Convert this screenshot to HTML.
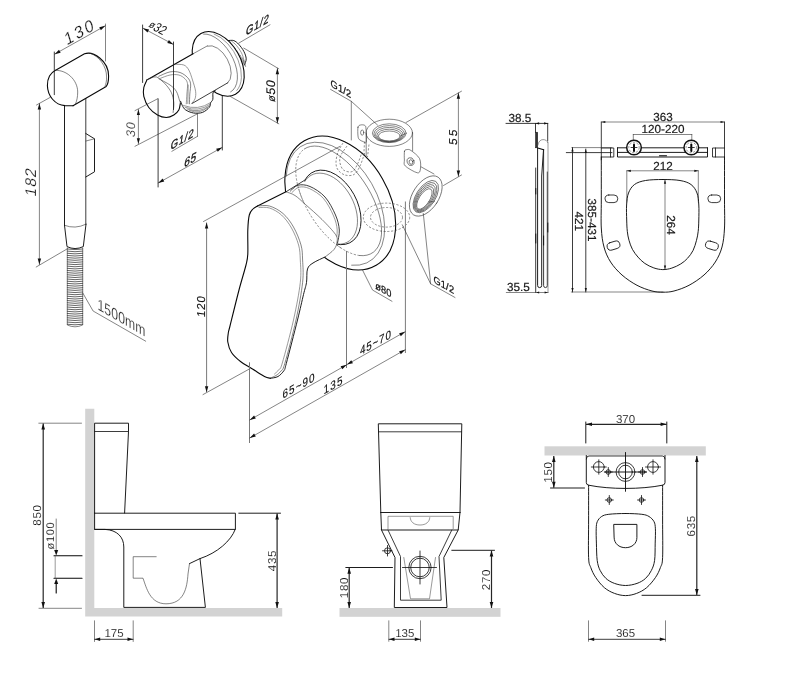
<!DOCTYPE html>
<html lang="en">
<head>
<meta charset="utf-8">
<title>Technical drawing</title>
<style>
html,body{margin:0;padding:0;background:#fff;}
body{width:800px;height:696px;overflow:hidden;font-family:"Liberation Sans",sans-serif;}
svg{display:block;}
.o{fill:none;stroke:#111;stroke-width:.95;stroke-linecap:round;stroke-linejoin:round;}
.b{fill:none;stroke:#080808;stroke-width:1.1;stroke-linecap:round;stroke-linejoin:round;}
.m{fill:none;stroke:#1a1a1a;stroke-width:.85;stroke-linecap:round;stroke-linejoin:round;}
.t{fill:none;stroke:#333;stroke-width:.6;stroke-linecap:round;stroke-linejoin:round;}
.k{fill:none;stroke:#262626;stroke-width:1.2;stroke-linecap:butt;}
.x{fill:none;stroke:#7a7a7a;stroke-width:1;stroke-linecap:butt;}
.g{fill:none;stroke:#555;stroke-width:.6;stroke-linecap:round;stroke-linejoin:round;}
.d{fill:none;stroke:#444;stroke-width:.6;stroke-dasharray:2.2 1.6;stroke-linejoin:round;}
.w{fill:#fff;}
.a{fill:#111;stroke:none;}
.wall{fill:#d3d3d3;stroke:none;}
text{font-family:"Liberation Sans",sans-serif;fill:#1a1a1a;text-anchor:middle;text-rendering:geometricPrecision;}
svg{filter:grayscale(1);will-change:transform;}
.n{fill:#0a0a0a;stroke:#fff;stroke-width:.14;paint-order:fill stroke;}
.c{text-anchor:start;fill:#111;stroke:#fff;stroke-width:.22;paint-order:fill stroke;}
</style>
</head>
<body>
<svg width="800" height="696" viewBox="0 0 800 696">
<rect x="0" y="0" width="800" height="696" fill="#fff"/>
<!-- 01_spray -->
<g id="spray">
<path class="t" d="M67.3 249Q75 250.2 82.7 249M67.3 251.15Q75 252.35 82.7 251.15M67.3 253.3Q75 254.5 82.7 253.3M67.3 255.45Q75 256.65 82.7 255.45M67.3 257.6Q75 258.8 82.7 257.6M67.3 259.75Q75 260.95 82.7 259.75M67.3 261.9Q75 263.1 82.7 261.9M67.3 264.05Q75 265.25 82.7 264.05M67.3 266.2Q75 267.4 82.7 266.2M67.3 268.35Q75 269.55 82.7 268.35M67.3 270.5Q75 271.7 82.7 270.5M67.3 272.65Q75 273.85 82.7 272.65M67.3 274.8Q75 276 82.7 274.8M67.3 276.95Q75 278.15 82.7 276.95M67.3 279.1Q75 280.3 82.7 279.1M67.3 281.25Q75 282.45 82.7 281.25M67.3 283.4Q75 284.6 82.7 283.4M67.3 285.55Q75 286.75 82.7 285.55M67.3 287.7Q75 288.9 82.7 287.7M67.3 289.85Q75 291.05 82.7 289.85M67.3 292Q75 293.2 82.7 292M67.3 294.15Q75 295.35 82.7 294.15M67.3 296.3Q75 297.5 82.7 296.3M67.3 298.45Q75 299.65 82.7 298.45M67.3 300.6Q75 301.8 82.7 300.6M67.3 302.75Q75 303.95 82.7 302.75M67.3 304.9Q75 306.1 82.7 304.9M67.3 307.05Q75 308.25 82.7 307.05M67.3 309.2Q75 310.4 82.7 309.2M67.3 311.35Q75 312.55 82.7 311.35M67.3 313.5Q75 314.7 82.7 313.5M67.3 315.65Q75 316.85 82.7 315.65M67.3 317.8Q75 319 82.7 317.8M67.3 319.95Q75 321.15 82.7 319.95M67.3 322.1Q75 323.3 82.7 322.1M67.3 324.25Q75 325.45 82.7 324.25" style="stroke-width:.75"/>
<path class="t" d="M67.3 248V325Q75 328.6 82.7 325V248"/>
<path class="o" d="M64.5 106L64.5 225.3"/>
<path class="m" d="M85.8 98.5L85.8 224.3"/>
<path class="t" d="M64.5 225.3Q75 229.5 86 224.2"/>
<path class="o" d="M64.5 225.3L67 246.6Q75 250.5 83.3 246.6L86 224.2"/>
<path class="o" d="M85.8 133.5L94.5 138.8V171.8L85.8 177"/>
<path class="t" d="M86 141L94.5 138.8"/>
<path class="b" d="M55.2 70.4C50.5 72.5 47.3 78.5 47.4 85.5C47.6 96 55 105 65 105.6L73 105.7"/>
<path class="b" d="M55.2 70.4L84.5 53.8C93 50.8 108.6 60.5 108.6 76C108.6 81 107.8 84.5 106.2 86.5L73 105.7"/>
<path class="t" d="M55.2 70.4C66 69.5 77.6 79.5 77.7 92C77.7 97 76.8 101 75.5 104"/>
<path class="t" d="M90 53.2C99 56 106.6 66 106.6 77C106.6 81 106 84 105 86.5"/>
<path class="m" d="M54.3 52L54.3 94.7"/>
<path class="t" d="M105.5 24L105.5 61"/>
<path class="t" d="M54.6 54.2L105.3 25.8"/><path class="a" d="M54.6 54.2L59 49.78L60.67 52.75Z"/><path class="a" d="M105.3 25.8L100.9 30.22L99.23 27.25Z"/>
<text class="c" font-size="16.5" letter-spacing="2.2" transform="translate(66.8 45.4) rotate(-29.3) skewX(-12) scale(1 1)">130</text>
<path class="t" d="M36.5 105L50 97.5"/>
<path class="t" d="M36.2 267L67 249"/>
<path class="t" d="M39.4 103.4L39.4 264.6"/><path class="a" d="M39.4 103.4L41.1 109.4L37.7 109.4Z"/><path class="a" d="M39.4 264.6L37.7 258.6L41.1 258.6Z"/>
<text class="c" font-size="15.5" letter-spacing="1" transform="translate(35.6 197.2) rotate(-90) skewX(-12) scale(1 1)">182</text>
<path class="t" d="M82.8 293L93.1 311L145.7 341.2"/>
<text class="c" font-size="16" letter-spacing="0.2" transform="translate(97.4 309.2) skewY(29.9) scale(0.76 1)" style="stroke-width:.25">1500mm</text>
</g>
<!-- 02_holder -->
<g id="holder">
<path class="t" d="M238.8 43.1L270 24.8"/>
<path class="t" d="M243.8 48.1L278.8 68.8"/>
<path class="t" d="M230 96.3L278.8 123.8"/>
<path class="t" d="M277.4 68.2L277.4 123.2"/><path class="a" d="M277.4 68.2L279.1 74.2L275.7 74.2Z"/><path class="a" d="M277.4 123.2L275.7 117.2L279.1 117.2Z"/>
<path style="fill:#fff;stroke:none" d="M228.1 40.6C229.05 40.6 232.02 39.97 233.8 40.6C235.58 41.23 237.13 42.62 238.8 44.4C240.47 46.18 242.57 48.9 243.8 51.3C245.03 53.7 246.1 56.52 246.2 58.8C246.3 61.08 244.7 63.97 244.4 65L230 62Z"/>
<path class="o" d="M228.1 40.6C229.05 40.6 232.02 39.97 233.8 40.6C235.58 41.23 237.13 42.62 238.8 44.4C240.47 46.18 242.57 48.9 243.8 51.3C245.03 53.7 246.1 56.52 246.2 58.8C246.3 61.08 244.7 63.97 244.4 65"/>
<path class="g" d="M230 41.6L231.6 48.1M231.75 43.9L233.35 50.4M233.5 46.2L235.1 52.7M235.25 48.5L236.85 55M237 50.8L238.6 57.3M238.75 53.1L240.35 59.6M240.5 55.4L242.1 61.9M242.25 57.7L243.85 64.2M244 60L245.6 66.5"/>
<path class="g" d="M231.5 41C232.33 41.75 234.87 43.58 236.5 45.5C238.13 47.42 240.12 50.17 241.3 52.5C242.48 54.83 243.45 57.42 243.6 59.5C243.75 61.58 242.43 64.08 242.2 65"/>
<ellipse class="b" style="fill:#fff" cx="218.2" cy="63.9" rx="22.4" ry="34.9" transform="rotate(-29.7 218.2 63.9)"/>
<path class="t" d="M203.55 34.04A18.4 32.4 -29.6 0 1 232.94 58.45A18.4 32.4 -29.6 0 1 230.67 91.9"/>
<path class="g" d="M214.05 33.99A20.4 33.6 -29.6 0 1 238.1 60.06A20.4 33.6 -29.6 0 1 236.81 90.43"/>
<path style="fill:#fff;stroke:none" d="M146.9 80L207.5 45.6C222 48 232 64 230.8 77.4C230.3 80 229.5 81.5 228.4 82.3L192 103.5L181 100L160 100Z"/>
<path class="t" d="M193.1 53.75L207.5 45.8"/>
<path class="t" d="M207.62 46.06A12.2 21.1 -28.1 0 1 227.27 59.18A12.2 21.1 -28.1 0 1 227.61 83.01"/>
<path class="b" d="M146.9 80L193.1 53.75"/>
<path style="fill:#fff;stroke:none" d="M180.6 101.3C180.88 102 181.48 104.08 182.3 105.5C183.12 106.92 183.63 108.55 185.5 109.8C187.37 111.05 190.67 112.57 193.5 113C196.33 113.43 199.87 113.35 202.5 112.4C205.13 111.45 207.95 108.9 209.3 107.3C210.65 105.7 210.02 104.12 210.6 102.8C211.18 101.48 212.43 99.97 212.8 99.4L192.4 103.3Z"/>
<path class="o" d="M180.6 101.3C180.88 102 181.48 104.08 182.3 105.5C183.12 106.92 183.63 108.55 185.5 109.8C187.37 111.05 190.67 112.57 193.5 113C196.33 113.43 199.87 113.35 202.5 112.4C205.13 111.45 207.95 108.9 209.3 107.3C210.65 105.7 210.02 104.12 210.6 102.8C211.18 101.48 212.4 101.07 212.8 99.4C213.2 97.73 212.55 94.22 213 92.8C213.45 91.38 215.08 91.22 215.5 90.9"/>
<path class="g" d="M183.5 105.5Q198.05 111 210.6 102.6"/>
<path class="g" d="M185 107.3Q198.5 112.35 210 104.4"/>
<path class="g" d="M187 109Q199.15 113.62 209.3 106.1"/>
<path class="g" d="M189.5 110.5Q199.5 114.75 207.5 107.6"/>
<path class="m" d="M192.4 103.3L227.8 82.8"/>
<path class="t" d="M158.8 76.3C160.67 75.57 166.47 72.53 170 71.9C173.53 71.27 177.08 71.57 180 72.5C182.92 73.43 185.73 75.62 187.5 77.5C189.27 79.38 190.22 81.05 190.6 83.8C190.98 86.55 190 90.67 189.8 94C189.6 97.33 189.47 102.17 189.4 103.8"/>
<path class="g" d="M160.5 78.3C162.08 77.75 166.95 75.55 170 75C173.05 74.45 176.3 74.37 178.8 75C181.3 75.63 183.55 77.33 185 78.8C186.45 80.27 187.18 81.27 187.5 83.8C187.82 86.33 187.1 90.67 186.9 94C186.7 97.33 186.4 102.17 186.3 103.8"/>
<path class="g" d="M175 64.4C176.47 64.5 181.5 64.07 183.8 65C186.1 65.93 187.35 67.5 188.8 70C190.25 72.5 191.37 76.45 192.5 80C193.63 83.55 195.18 88.17 195.6 91.3C196.02 94.43 195.72 96.72 195 98.8C194.28 100.88 191.92 102.97 191.3 103.8"/>
<path class="g" d="M188.2 85L187.8 103.5"/>
<path style="fill:#fff;stroke:none" d="M146.9 80C146.38 81.25 144.32 84.78 143.8 87.5C143.28 90.22 142.97 92.97 143.8 96.3C144.63 99.63 146.52 104.38 148.8 107.5C151.08 110.62 154.58 113.33 157.5 115C160.42 116.67 163.58 117.5 166.3 117.5C169.02 117.5 171.72 116.25 173.8 115C175.88 113.75 177.7 112 178.8 110C179.9 108 180.13 104.17 180.4 103L179.4 100L176.3 91.3L170 85L158.8 78.8Z"/>
<path class="b" d="M146.9 80C146.38 81.25 144.32 84.78 143.8 87.5C143.28 90.22 142.97 92.97 143.8 96.3C144.63 99.63 146.52 104.38 148.8 107.5C151.08 110.62 154.58 113.33 157.5 115C160.42 116.67 163.58 117.5 166.3 117.5C169.02 117.5 171.72 116.25 173.8 115C175.88 113.75 177.7 112 178.8 110C179.9 108 180.13 104.17 180.4 103"/>
<path class="t" d="M147.5 79.6C148.97 79.15 153.38 76.2 156.3 76.9C159.22 77.6 162.5 81.2 165 83.8C167.5 86.4 169.83 89.38 171.3 92.5C172.77 95.62 173.5 99.17 173.8 102.5C174.1 105.83 173.22 110.83 173.1 112.5"/>
<path class="t" d="M158.8 78.8C160.67 79.83 167.08 82.92 170 85C172.92 87.08 174.73 88.8 176.3 91.3C177.87 93.8 178.72 98.05 179.4 100C180.08 101.95 180.23 102.5 180.4 103"/>
<path class="m" d="M142.6 25L142.6 82.5"/>
<path class="m" d="M173.5 42L173.5 109.5"/>
<path class="t" d="M143 28.2L173.4 44.4"/><path class="a" d="M143 28.2L149.09 29.52L147.5 32.52Z"/><path class="a" d="M173.4 44.4L167.31 43.08L168.9 40.08Z"/>
<text class="c" font-size="13.5" letter-spacing="0" transform="translate(147.6 27.2) rotate(28.2) skewX(-8) scale(0.8 1)" style="stroke:none"><tspan font-size="10.5" dy="-0.8">ø</tspan><tspan dy="0.8">32</tspan></text>
<path class="t" d="M135 110.6L157.6 98.8"/>
<path class="t" d="M135 146.3L197.5 113.8"/>
<path class="t" d="M138.4 109.4L138.4 143.8"/><path class="a" d="M138.4 109.4L140 114.9L136.8 114.9Z"/><path class="a" d="M138.4 143.8L136.8 138.3L140 138.3Z"/>
<text class="c" font-size="12.5" letter-spacing="0.6" transform="translate(135.4 137.4) rotate(-90) skewX(-10) scale(1 1)">30</text>
<path class="m" d="M158.1 98.8L158.1 187"/>
<path class="m" d="M222.3 96L222.3 150"/>
<path class="t" d="M158.2 183L222.2 147.4"/><path class="a" d="M158.2 183L162.62 178.6L164.27 181.57Z"/><path class="a" d="M222.2 147.4L217.78 151.8L216.13 148.83Z"/>
<text class="c" font-size="10.5" letter-spacing="0.8" transform="translate(183.7 167.4) rotate(-29) skewX(-38) scale(1.1 1)" style="stroke:#222;stroke-width:.3;paint-order:stroke fill">65</text>
<path class="t" d="M197.5 113.8L197.5 136.3"/>
<path class="t" d="M171.9 151.3L197.5 136.3"/>
<text class="c" font-size="10" letter-spacing="0.8" transform="translate(170.2 150.2) rotate(-30.4) skewX(-38) scale(1.1 1)" style="stroke:#222;stroke-width:.3;paint-order:stroke fill">G1/2</text>
<text class="c" font-size="10" letter-spacing="0.8" transform="translate(245.4 35.8) rotate(-30.4) skewX(-38) scale(1.1 1)" style="stroke:#222;stroke-width:.3;paint-order:stroke fill">G1/2</text>
<text class="c" font-size="12.5" letter-spacing="0.6" transform="translate(275.4 102.2) rotate(-90) skewX(-10) scale(1 1)" style="stroke:#222;stroke-width:.12;paint-order:stroke fill"><tspan font-size="10.5">ø</tspan>50</text>
</g>
<!-- 03_mixer -->
<g id="mixer">
<path class="t" d="M366.2 133L366.2 156"/>
<path class="t" d="M412.6 133L412.6 150.8"/>
<ellipse class="t" cx="389.3" cy="132.8" rx="23.2" ry="13.6"/>
<ellipse class="t" cx="389.3" cy="133.2" rx="16.9" ry="9.4"/>
<ellipse class="t" cx="389.3" cy="133.9" rx="15.4" ry="8.3"/>
<ellipse class="t" cx="389.3" cy="134.6" rx="13.9" ry="7.2"/>
<ellipse class="t" cx="389.3" cy="135.3" rx="12.4" ry="6.1"/>
<ellipse class="t" cx="389.3" cy="136" rx="10.9" ry="5"/>
<path class="t" d="M358 127.2C358.42 125.37 359.37 125.3 360.5 125C361.63 124.7 363.88 124.73 364.8 125.4C365.72 126.07 365.77 126.23 366 129C366.23 131.77 366.7 139.92 366.2 142C365.7 144.08 364.13 141.9 363 141.5C361.87 141.1 360.23 140.52 359.4 139.6C358.57 138.68 358.23 138.07 358 136C357.77 133.93 357.58 129.03 358 127.2Z"/>
<ellipse class="t" cx="362.2" cy="132.6" rx="1.6" ry="2.6"/>
<path class="t" d="M404.5 151.2C404.93 149.47 405.92 149.72 407 149.6C408.08 149.48 408.92 149.02 411 150.5C413.08 151.98 417.93 155.42 419.5 158.5C421.07 161.58 420.77 166.62 420.4 169C420.03 171.38 419.82 173.3 417.3 172.8C414.78 172.3 407.45 168.13 405.3 166C403.15 163.87 404.53 162.47 404.4 160C404.27 157.53 404.07 152.93 404.5 151.2Z"/>
<ellipse class="t" cx="410.6" cy="161.6" rx="3.4" ry="4" transform="rotate(-20 410.6 161.6)"/>
<ellipse class="t" cx="411" cy="162" rx="1.8" ry="2.3" transform="rotate(-20 411 162)"/>
<path class="t" d="M421 166.8L434 174"/>
<ellipse class="t" cx="425.8" cy="196" rx="13" ry="22.5" transform="rotate(33 425.8 196)"/>
<ellipse class="t" cx="425.8" cy="196.6" rx="9.6" ry="18.2" transform="rotate(33 425.8 196.6)"/>
<ellipse class="t" cx="425.45" cy="197.2" rx="8.5" ry="16.6" transform="rotate(33 425.45 197.2)"/>
<ellipse class="t" cx="425.1" cy="197.8" rx="7.4" ry="15" transform="rotate(33 425.1 197.8)"/>
<ellipse class="t" cx="424.75" cy="198.4" rx="6.3" ry="13.4" transform="rotate(33 424.75 198.4)"/>
<ellipse class="t" cx="424.4" cy="199" rx="5.2" ry="11.8" transform="rotate(33 424.4 199)"/>
<ellipse class="b" style="fill:#fff" cx="340.25" cy="203" rx="48.7" ry="71.85" transform="rotate(-30 340.25 203)"/>
<ellipse class="d" cx="386.5" cy="217.3" rx="23.2" ry="14.2"/>
<ellipse class="d" cx="386.5" cy="217.3" rx="16" ry="9.8"/>
<path class="d" d="M364.5 141.5L363.8 156M369 144.5L367.5 157"/>
<path class="d" d="M343 143C342.17 144.5 339.17 148.75 338 152C336.83 155.25 336 159.5 336 162.5C336 165.5 336.5 167.92 338 170C339.5 172.08 342.33 174.25 345 175C347.67 175.75 351.5 176 354 174.5C356.5 173 358.17 169.75 360 166C361.83 162.25 364.17 154.33 365 152"/>
<path class="d" d="M347 146C346 147.5 342.2 152.33 341 155C339.8 157.67 339.38 159.5 339.8 162C340.22 164.5 341.38 168.42 343.5 170C345.62 171.58 350.08 172.67 352.5 171.5C354.92 170.33 356.42 166.25 358 163C359.58 159.75 361.33 153.83 362 152"/>
<path class="t" d="M286.18 176.1A41.5 67.1 -30.3 0 1 331.72 145.63A41.5 67.1 -30.3 0 1 383.66 216.33A41.5 67.1 -30.3 0 1 351.66 265.23"/>
<path class="t" d="M304.31 148.98A31.5 62.2 -33 0 1 371.08 193.88A31.5 62.2 -33 0 1 359.53 255.52"/>
<path class="d" d="M359.53 255.52A31.5 62.2 -33 0 1 306.32 207.72A31.5 62.2 -33 0 1 304.31 148.98"/>
<path class="o" d="M304.97 179.97A26 40 -28 0 1 340.93 178.35A26 40 -28 0 1 360.56 226.49A26 40 -28 0 1 330.24 241.93"/>
<path class="t" d="M304.69 181.56A24.6 38.2 -28 0 1 351.06 196.94A24.6 38.2 -28 0 1 338.18 244.22"/>
<path class="m" d="M286 191.8L305 180"/>
<path class="m" d="M290.5 191C291.75 190.03 294.75 185.95 298 185.2C301.25 184.45 305.5 184.53 310 186.5C314.5 188.47 320.75 192.25 325 197C329.25 201.75 333.12 209.5 335.5 215C337.88 220.5 338.97 225.33 339.3 230C339.63 234.67 337.8 240.83 337.5 243"/>
<path class="g" d="M292 192.5C293.17 191.62 296.08 187.85 299 187.2C301.92 186.55 305.42 186.72 309.5 188.6C313.58 190.48 319.48 193.93 323.5 198.5C327.52 203.07 331.32 210.75 333.6 216C335.88 221.25 336.87 225.67 337.2 230C337.53 234.33 335.87 240 335.6 242"/>
<path style="fill:#fff;stroke:none" d="M286 191.8C287.5 192.42 291.75 193.38 295 195.5C298.25 197.62 301 200.5 305.5 204.5C310 208.5 317 214.5 322 219.5C327 224.5 333 230.75 335.5 234.5C338 238.25 337.25 239.5 337 242C336.75 244.5 336 247 334 249.5C332 252 328.5 254.75 325 257C321.5 259.25 315.92 261 313 263C310.08 265 308.58 265.75 307.5 269C306.42 272.25 307.17 278.25 306.5 282.5C305.83 286.75 305 288.25 303.5 294.5C302 300.75 300.37 308.5 297.5 320C294.63 331.5 288.55 355.08 286.3 363.5C284.05 371.92 285.38 368.33 284 370.5C282.62 372.67 280.25 375.2 278 376.5C275.75 377.8 272.75 378.3 270.5 378.3C268.25 378.3 267.5 378.05 264.5 376.5C261.5 374.95 256.5 371.5 252.5 369C248.5 366.5 244 364.25 240.5 361.5C237 358.75 233.62 355.75 231.5 352.5C229.38 349.25 228.33 345.25 227.8 342C227.27 338.75 227.93 335.67 228.3 333C228.67 330.33 228.22 333.17 230 326C231.78 318.83 236.33 300.17 239 290C241.67 279.83 244.53 271 246 265C247.47 259 247.5 259.83 247.8 254C248.1 248.17 247.55 236.5 247.8 230C248.05 223.5 248.43 218.5 249.3 215C250.17 211.5 251.63 210.5 253 209C254.37 207.5 256.75 206.5 257.5 206Z"/>
<path class="t" d="M286 191.8C287.5 192.42 291.75 193.38 295 195.5C298.25 197.62 301 200.5 305.5 204.5C310 208.5 317 214.5 322 219.5C327 224.5 333 230.75 335.5 234.5C338 238.25 337.25 239.5 337 242C336.75 244.5 336 247 334 249.5C332 252 326.5 255.75 325 257"/>
<path class="o" d="M325 257C323 258 315.92 261 313 263C310.08 265 308.58 265.75 307.5 269C306.42 272.25 307.17 278.25 306.5 282.5C305.83 286.75 305 288.25 303.5 294.5C302 300.75 300.37 308.5 297.5 320C294.63 331.5 288.55 355.08 286.3 363.5C284.05 371.92 285.38 368.33 284 370.5C282.62 372.67 280.25 375.2 278 376.5C275.75 377.8 271.75 378 270.5 378.3"/>
<path class="b" d="M286 191.8L257.5 206"/>
<path class="b" d="M257.5 206C256.75 206.5 254.37 207.5 253 209C251.63 210.5 250.17 211.5 249.3 215C248.43 218.5 248.05 223.5 247.8 230C247.55 236.5 248.1 248.17 247.8 254C247.5 259.83 247.47 259 246 265C244.53 271 241.67 279.83 239 290C236.33 300.17 231.78 318.83 230 326C228.22 333.17 228.67 330.33 228.3 333C227.93 335.67 227.27 338.75 227.8 342C228.33 345.25 229.38 349.25 231.5 352.5C233.62 355.75 237 358.75 240.5 361.5C244 364.25 248.5 366.5 252.5 369C256.5 371.5 261.5 374.95 264.5 376.5C267.5 378.05 269.5 378 270.5 378.3"/>
<path class="t" d="M257.5 206C259.5 206 265.25 204.75 269.5 206C273.75 207.25 279 210 283 213.5C287 217 290.5 221.75 293.5 227C296.5 232.25 299.48 239.5 301 245C302.52 250.5 302.33 253.75 302.6 260C302.87 266.25 303.7 272.5 302.6 282.5C301.5 292.5 298.97 306.5 296 320C293.03 333.5 287.3 355 284.8 363.5C282.3 372 282.47 369 281 371C279.53 373 277.75 374.33 276 375.5C274.25 376.67 271.42 377.58 270.5 378"/>
<path class="g" d="M259 207.5C260.75 207.58 265.75 206.75 269.5 208C273.25 209.25 277.83 211.67 281.5 215C285.17 218.33 288.65 223 291.5 228C294.35 233 297.13 239.67 298.6 245C300.07 250.33 300.02 253.75 300.3 260C300.58 266.25 301.43 272.5 300.3 282.5C299.17 292.5 296.5 306.58 293.5 320C290.5 333.42 284.72 354.75 282.3 363C279.88 371.25 280.3 367.67 279 369.5C277.7 371.33 275.25 373.25 274.5 374"/>
<path class="d" d="M340.75 247.82A31.5 62.2 -33 0 1 298.66 188.81"/>
<path class="t" d="M330.6 89.4L351.3 101.3L377.5 125"/>
<path class="t" d="M351.3 101.3L351.3 140"/>
<text class="c" font-size="10.3" letter-spacing="0.2" transform="translate(330.6 86.2) skewY(30) scale(0.9 1)" style="stroke:#222;stroke-width:.25;paint-order:stroke fill">G1/2</text>
<path class="t" d="M406 122.5L461.5 91.2"/>
<path class="t" d="M443.5 185.5L461.5 175"/>
<path class="t" d="M458.4 92.8L458.4 176.4"/><path class="a" d="M458.4 92.8L460.1 98.8L456.7 98.8Z"/><path class="a" d="M458.4 176.4L456.7 170.4L460.1 170.4Z"/>
<text class="c" font-size="11.5" letter-spacing="2.4" transform="translate(456.8 145.2) rotate(-90) skewX(-8) scale(1 1)" style="stroke:#222;stroke-width:.15;paint-order:stroke fill">55</text>
<path class="t" d="M203.5 221.5L340 146.3"/>
<path class="t" d="M203 394.6L249 369.2"/>
<path class="x" d="M206.6 222.6L206.6 392.2"/><path class="a" d="M206.6 222.6L208.3 228.6L204.9 228.6Z"/><path class="a" d="M206.6 392.2L204.9 386.2L208.3 386.2Z"/>
<text class="c" font-size="11.5" letter-spacing="0.9" transform="translate(205.2 317.6) rotate(-90) skewX(-8) scale(1 1)" style="stroke:#222;stroke-width:.15;paint-order:stroke fill">120</text>
<path class="x" d="M249.5 362.3L249.5 443"/>
<path class="x" d="M346.5 251L346.5 368"/>
<path class="x" d="M405.4 201.5L405.4 353"/>
<path class="t" d="M346.9 364.6L405.2 331.7"/><path class="a" d="M346.9 364.6L351.29 360.17L352.96 363.13Z"/><path class="a" d="M405.2 331.7L400.81 336.13L399.14 333.17Z"/>
<text class="c" font-size="10.5" letter-spacing="0.9" transform="translate(360 355.2) rotate(-29.4) skewX(-30) scale(1.07 1)" style="stroke:#222;stroke-width:.15;paint-order:stroke fill">45~70</text>
<path class="t" d="M249.7 420L346.7 364.8"/><path class="a" d="M249.7 420L254.07 415.55L255.76 418.51Z"/><path class="a" d="M346.7 364.8L342.33 369.25L340.64 366.29Z"/>
<text class="c" font-size="10.5" letter-spacing="1.1" transform="translate(282.6 399) rotate(-29.6) skewX(-30) scale(1.08 1)" style="stroke:#222;stroke-width:.15;paint-order:stroke fill">65~90</text>
<path class="t" d="M249.7 438L405.2 349.7"/><path class="a" d="M249.7 438L254.08 433.56L255.76 436.52Z"/><path class="a" d="M405.2 349.7L400.82 354.14L399.14 351.18Z"/>
<text class="c" font-size="10.5" letter-spacing="1.3" transform="translate(323.6 394.6) rotate(-29.6) skewX(-30) scale(1.08 1)" style="stroke:#222;stroke-width:.15;paint-order:stroke fill">135</text>
<path class="t" d="M362.5 270L372.5 290L392 301.3"/>
<text class="c" font-size="10.3" letter-spacing="0.2" transform="translate(375.2 288.4) skewY(30) scale(0.9 1)" style="stroke:#222;stroke-width:.25;paint-order:stroke fill">ø80</text>
<path class="t" d="M402.3 224.8L430.6 283.8L455 297.5"/>
<path class="t" d="M423.3 213.5L430 277.5L430.6 283.8"/>
<text class="c" font-size="10.3" letter-spacing="0.2" transform="translate(433.4 282.4) skewY(29.5) scale(0.9 1)" style="stroke:#222;stroke-width:.25;paint-order:stroke fill">G1/2</text>
</g>
<!-- 05_seat -->
<g id="seat">
<path class="m" d="M506 123.4L547.8 123.4"/>
<text x="519.8" y="122" font-size="11.7" style="stroke:#1a1a1a;stroke-width:.2">38.5</text>
<path class="m" d="M535.5 123.4L535.5 132.2"/>
<path class="m" d="M547.7 123.4L547.7 141"/>
<path class="a" d="M535.6 123.4L539.1 122.3L539.1 124.5Z"/>
<path class="a" d="M547.6 123.4L544.1 124.5L544.1 122.3Z"/>
<rect x="535.5" y="132.2" width="2.2" height="15.6" fill="#333" stroke="#111" stroke-width=".5"/>
<path class="b" d="M537.7 147.9L543.7 149.8"/>
<path class="g" d="M537.9 145.2C538.3 141.6 540.5 139.6 543 139.6C545.6 139.6 547.4 140.8 547.7 142.6"/>
<path class="o" d="M537.6 148.3V285.5Q537.6 287.6 539.6 287.6Q541.7 287.6 541.7 285.5V176L543.5 150"/>
<path class="m" d="M543.6 149.8V285.5Q543.6 287.6 545.5 287.6Q547.3 287.6 547.3 285.5V172"/>
<path class="m" d="M535.7 168V292.5"/>
<path class="g" d="M548 142.5V292.5"/>
<path class="o" d="M535.8 188.5V194M535.8 234V243M543.6 236V245M547.8 223V232"/>
<path class="t" d="M506.3 292.5L548 292.5"/>
<text x="518.3" y="290.6" font-size="11.7" style="stroke:#1a1a1a;stroke-width:.2">35.5</text>
<path class="a" d="M536 292.5L539.2 291.4L539.2 293.6Z"/>
<path class="a" d="M547.8 292.5L544.6 293.6L544.6 291.4Z"/>
<path class="t" d="M601.3 122L724.5 122"/>
<path class="a" d="M601.3 122L605.3 120.9L605.3 123.1Z"/>
<path class="a" d="M724.5 122L720.5 123.1L720.5 120.9Z"/>
<text x="663" y="120.8" font-size="11.7" style="stroke:#1a1a1a;stroke-width:.2">363</text>
<path class="m" d="M601.3 122L601.3 160"/>
<path class="m" d="M724.5 122L724.5 160"/>
<path class="t" d="M633.3 134.5L691.8 134.5"/>
<path class="t" d="M633.3 134.5L633.3 141"/>
<path class="t" d="M691.8 134.5L691.8 141"/>
<text x="663" y="133.3" font-size="11.7" style="stroke:#1a1a1a;stroke-width:.2">120-220</text>
<path class="o" d="M617.5 147.8H707.5M617.5 152.4H707.5M617.5 147.8V157H707.5V147.8"/>
<path class="m" d="M601.3 148H613.8V157H601.3M610.5 148V157"/>
<path class="m" d="M724.5 148H712.5V157H724.5M715.5 148V157"/>
<path class="b" d="M659.5 155.8H666.5"/>
<circle cx="634" cy="147.5" r="7.3" fill="#fff" stroke="#111" stroke-width="1.5"/>
<circle class="d" cx="634" cy="147.5" r="5.2"/>
<path class="b" d="M634 144.5V151" style="stroke-width:2"/>
<path class="m" d="M631 147.5H637"/>
<circle cx="691.3" cy="147.5" r="7.3" fill="#fff" stroke="#111" stroke-width="1.5"/>
<circle class="d" cx="691.3" cy="147.5" r="5.2"/>
<path class="b" d="M691.3 144.5V151" style="stroke-width:2"/>
<path class="m" d="M688.3 147.5H694.3"/>
<path class="t" d="M571.8 147.6L612 147.6"/>
<path class="m" d="M566.3 152.6L612 152.6"/>
<path class="m" d="M572.5 147.6L572.5 292"/>
<path class="m" d="M585.8 149L585.8 292"/>
<path class="a" d="M572.5 292L571.4 288L573.6 288Z"/>
<path class="a" d="M585.8 292L584.7 288L586.9 288Z"/>
<path class="a" d="M572.5 147.6L573.6 151.6L571.4 151.6Z"/>
<path class="a" d="M585.8 149L586.9 153L584.7 153Z"/>
<path class="t" d="M571.3 292L663 292"/>
<text x="574.8" y="221.3" font-size="11.7" transform="rotate(90 574.8 221.3)" style="stroke:#1a1a1a;stroke-width:.2">421</text>
<text x="588" y="220" font-size="11.7" transform="rotate(90 588 220)" style="stroke:#1a1a1a;stroke-width:.2">385-431</text>
<path class="o" d="M601.3 157C601.3 164.17 601.3 188.17 601.3 200C601.3 211.83 600.85 220.17 601.3 228C601.75 235.83 602.45 241.33 604 247C605.55 252.67 607.6 257.33 610.6 262C613.6 266.67 617.6 271.12 622 275C626.4 278.88 632 282.63 637 285.3C642 287.97 647.67 289.85 652 291C656.33 292.15 659.33 292.2 663 292.2C666.67 292.2 669.67 292.15 674 291C678.33 289.85 684 287.97 689 285.3C694 282.63 699.62 278.88 704 275C708.38 271.12 712.3 266.67 715.3 262C718.3 257.33 720.47 252.67 722 247C723.53 241.33 724.08 235.83 724.5 228C724.92 220.17 724.5 211.83 724.5 200C724.5 188.17 724.5 164.17 724.5 157"/>
<path class="t" d="M626.8 170.8L698.3 170.8"/>
<path class="a" d="M626.8 170.8L630.8 169.7L630.8 171.9Z"/>
<path class="a" d="M698.3 170.8L694.3 171.9L694.3 169.7Z"/>
<path class="t" d="M626.8 170.8L626.8 202"/>
<path class="t" d="M698.3 170.8L698.3 202"/>
<text x="663" y="169.6" font-size="11.7" style="stroke:#1a1a1a;stroke-width:.2">212</text>
<path class="o" d="M662.8 179.5C668.55 179.5 675.3 179.67 680 180.5C684.7 181.33 688.17 182.42 691 184.5C693.83 186.58 695.7 189.58 697 193C698.3 196.42 698.5 200.5 698.8 205C699.1 209.5 698.9 215.62 698.8 220C698.7 224.38 698.58 227.92 698.2 231.3C697.82 234.68 697.35 237.12 696.5 240.3C695.65 243.48 694.6 247.4 693.1 250.4C691.6 253.4 689.55 256.05 687.5 258.3C685.45 260.55 683.42 262.27 680.8 263.9C678.18 265.53 674.8 267.15 671.8 268.1C668.8 269.05 665.8 269.63 662.8 269.6C659.8 269.57 656.8 268.93 653.8 267.9C650.8 266.87 647.43 265.2 644.8 263.4C642.17 261.6 640.07 259.45 638 257.1C635.93 254.75 633.9 252.1 632.4 249.3C630.9 246.5 629.85 243.3 629 240.3C628.15 237.3 627.68 234.68 627.3 231.3C626.92 227.92 626.82 224.38 626.7 220C626.58 215.62 626.3 209.5 626.6 205C626.9 200.5 627.18 196.42 628.5 193C629.82 189.58 631.67 186.58 634.5 184.5C637.33 182.42 640.78 181.33 645.5 180.5C650.22 179.67 657.05 179.5 662.8 179.5Z"/>
<path class="t" d="M665 179.8L665 269.4"/>
<path class="a" d="M665 179.8L666.1 183.8L663.9 183.8Z"/>
<path class="a" d="M665 269.4L663.9 265.4L666.1 265.4Z"/>
<text x="667.3" y="225" font-size="11.7" transform="rotate(90 667.3 225)" style="stroke:#1a1a1a;stroke-width:.2">264</text>
<rect class="m" x="605" y="195" width="12.8" height="7.6" rx="3.8"/>
<rect class="m" x="707.9" y="195" width="12.8" height="7.6" rx="3.8"/>
<rect class="m" x="607" y="241.8" width="13" height="7.6" rx="3.8" transform="rotate(-17 613.5 245.6)"/>
<rect class="m" x="705.4" y="241.8" width="13" height="7.6" rx="3.8" transform="rotate(17 711.9 245.6)"/>
</g>
<!-- 10_side -->
<g id="side">
<path class="wall" d="M85.2 408.8H94.3V608.1H282.2V616.6H85.2Z"/>
<path class="o" d="M94.6 513L94.6 423.2L128.5 423.2L128.5 431.5L124.6 513"/>
<path class="m" d="M94.6 431.5L128.5 431.5"/>
<path class="o" d="M94.6 513.2L235.4 513.2L235.4 529.4L94.6 529.4L94.6 513.2"/>
<path class="o" d="M94.6 529.4H105C117 530 123.8 537 123.8 547V607.4H205.4L200 558.6"/>
<path class="o" d="M235.2 529.4C231 541 217 553 200 558.6L189.5 563.6"/>
<path class="t" d="M156.2 556.7H133.2V578.2H143C146.5 588 150 603.8 166 603.8C184 603.8 187 588 188 574L189.5 563.6"/>
<path class="t" d="M38.8 423.2L81.5 423.2"/>
<path class="t" d="M39 608.3L81.5 608.3"/>
<path class="k" d="M43.2 423.6L43.2 608"/><path class="a" d="M43.2 423.6L45 429.6L41.4 429.6Z"/><path class="a" d="M43.2 608L41.4 602L45 602Z"/>
<text x="41.2" y="515" font-size="11.5" class="n" transform="rotate(-90 41.2 515)" letter-spacing=".7">850</text>
<path class="t" d="M56.2 519L56.2 551"/>
<path class="a" d="M56.2 555.6L54.2 550.1L58.2 550.1Z"/>
<path class="b" d="M54 555.8L82 555.8"/>
<path class="b" d="M54 578.2L82 578.2"/>
<path class="g" d="M55.2 555.8L55.2 578.2"/>
<path class="a" d="M56.2 578.6L58.2 584.1L54.2 584.1Z"/>
<path class="b" d="M56.2 583L56.2 593"/>
<text x="53.9" y="535.5" font-size="11" class="n" transform="rotate(-90 53.9 535.5)" letter-spacing=".7">ø100</text>
<path class="t" d="M94.5 620.8L94.5 641.5"/>
<path class="t" d="M133.2 620.8L133.2 641.5"/>
<path class="m" d="M94.7 639.3L133 639.3"/><path class="a" d="M94.7 639.3L100.2 637.6L100.2 641Z"/><path class="a" d="M133 639.3L127.5 641L127.5 637.6Z"/>
<text x="114" y="637" font-size="11.5" class="n">175</text>
<path class="o" d="M238.8 513.2L280.5 513.2"/>
<path class="k" d="M277.1 513.5L277.1 608"/><path class="a" d="M277.1 513.5L278.9 519.5L275.3 519.5Z"/><path class="a" d="M277.1 608L275.3 602L278.9 602Z"/>
<text x="275.8" y="560.5" font-size="11.5" class="n" transform="rotate(-90 275.8 560.5)" letter-spacing=".7">435</text>
</g>
<!-- 11_front -->
<g id="front">
<rect class="wall" x="339.5" y="608" width="161" height="8.8"/>
<path class="o" d="M380.8 512.5L378.3 423.8L461.8 423.8L460 512.5"/>
<path class="m" d="M378.5 431.8L461.6 431.8"/>
<path class="o" d="M380.8 512.5L460 512.5"/>
<path class="o" d="M380.8 512.5L381.5 530L458.2 530L460 512.5"/>
<path class="g" d="M388 528.6L388 516.3L453.2 516.3L453.2 528.6"/>
<path class="g" d="M410.2 517.6C410.5 522 414 525 420 525C426 525 429.5 522 429.8 517.6"/>
<path class="o" d="M381.5 530L395 557.5L394.3 607.5L447 607.5L443.8 557.5L458.2 530"/>
<path class="m" d="M388 530L400.5 556.5L400.5 600.2L441.2 600.2L439 556.5L451.8 530"/>
<path class="g" d="M403.8 557.5L410.5 598.8L429.5 598.8L435.5 557.5"/>
<circle class="m" cx="420" cy="567.5" r="11.2"/>
<circle class="m" cx="420" cy="567.5" r="9.3"/>
<path class="m" d="M420 551L420 584"/>
<path class="m" d="M402.5 567.5L436.5 567.5"/>
<circle class="m" cx="387.5" cy="550.8" r="3"/>
<path class="m" d="M387.5 545.5L387.5 556"/>
<path class="m" d="M382.5 550.8L392 550.8"/>
<path class="o" d="M345.8 567.5L392.5 567.5"/>
<path class="k" d="M349.2 567.7L349.2 608"/><path class="a" d="M349.2 567.7L351 573.7L347.4 573.7Z"/><path class="a" d="M349.2 608L347.4 602L351 602Z"/>
<text x="347.5" y="587.5" font-size="11.5" class="n" transform="rotate(-90 347.5 587.5)" letter-spacing=".7">180</text>
<path class="o" d="M451.8 550.3L494.5 550.3"/>
<path class="k" d="M491.5 550.5L491.5 608"/><path class="a" d="M491.5 550.5L493.3 556.5L489.7 556.5Z"/><path class="a" d="M491.5 608L489.7 602L493.3 602Z"/>
<text x="490" y="579.5" font-size="11.5" class="n" transform="rotate(-90 490 579.5)" letter-spacing=".7">270</text>
<path class="t" d="M388.8 620.8L388.8 641.3"/>
<path class="t" d="M420.5 620.8L420.5 641.3"/>
<path class="m" d="M389 639.3L420.3 639.3"/><path class="a" d="M389 639.3L394.5 637.6L394.5 641Z"/><path class="a" d="M420.3 639.3L414.8 641L414.8 637.6Z"/>
<text x="404.8" y="637" font-size="11.5" class="n">135</text>
</g>
<!-- 12_top -->
<g id="top">
<rect class="wall" x="544.5" y="446.3" width="161.3" height="9.2"/>
<path class="o" d="M585.8 422L585.8 443"/>
<path class="o" d="M666.8 422L666.8 443"/>
<path class="k" d="M586 424.3L666.6 424.3"/><path class="a" d="M586 424.3L592 422.5L592 426.1Z"/><path class="a" d="M666.6 424.3L660.6 426.1L660.6 422.5Z"/>
<text x="625.5" y="422.6" font-size="11.5" class="n">370</text>
<path class="m" d="M586.3 459Q586.3 456 589 456H662.3Q665 456 665 459"/>
<path class="o" d="M586.3 455.5V482.5Q586.3 484.8 588.6 485.2C610 489.5 641 489.5 662.6 485.2Q665 484.8 665 482.5V455.5"/>
<path class="o" d="M588.6 485.2C588.6 491 588.6 507.95 588.6 520C588.6 532.05 588.23 549.57 588.6 557.5C588.97 565.43 589.6 564.25 590.8 567.6C592 570.95 593.53 574.25 595.8 577.6C598.07 580.95 601.28 585.07 604.4 587.7C607.52 590.33 610.97 592.08 614.5 593.4C618.03 594.72 621.92 595.6 625.6 595.6C629.28 595.6 633.1 594.72 636.6 593.4C640.1 592.08 643.47 590.33 646.6 587.7C649.73 585.07 653.1 580.95 655.4 577.6C657.7 574.25 659.2 570.95 660.4 567.6C661.6 564.25 662.23 565.43 662.6 557.5C662.97 549.57 662.6 532.05 662.6 520C662.6 507.95 662.6 491 662.6 485.2"/>
<path class="o" d="M625.6 513.5C631.1 513.5 637.9 513.8 641.8 514.3C645.7 514.8 646.97 515.28 649 516.5C651.03 517.72 652.93 519.55 654 521.6C655.07 523.65 655.2 525.22 655.4 528.8C655.6 532.38 655.33 537.83 655.2 543.1C655.07 548.37 655.23 555.85 654.6 560.4C653.97 564.95 652.9 567.4 651.4 570.4C649.9 573.4 648 576.23 645.6 578.4C643.2 580.57 640.33 582.22 637 583.4C633.67 584.58 629.35 585.5 625.6 585.5C621.85 585.5 617.78 584.58 614.5 583.4C611.22 582.22 608.3 580.57 605.9 578.4C603.5 576.23 601.55 573.4 600.1 570.4C598.65 567.4 597.82 564.95 597.2 560.4C596.58 555.85 596.57 548.37 596.4 543.1C596.23 537.83 596.05 532.38 596.2 528.8C596.35 525.22 596.4 523.65 597.3 521.6C598.2 519.55 599.68 517.72 601.6 516.5C603.52 515.28 604.8 514.8 608.8 514.3C612.8 513.8 620.1 513.5 625.6 513.5Z"/>
<path class="o" d="M614.1 524.4H636.9V537.5C636.9 543.5 632 547.7 625.5 547.7C619 547.7 614.1 543.5 614.1 537.5Z"/>
<circle class="m" cx="598.8" cy="467" r="5.4"/>
<path class="m" d="M591.3 467L606.3 467"/>
<path class="m" d="M598.8 459.8L598.8 474.2"/>
<circle class="m" cx="653" cy="467" r="5.4"/>
<path class="m" d="M645.5 467L660.5 467"/>
<path class="m" d="M653 459.8L653 474.2"/>
<circle class="m" cx="625.5" cy="472" r="9.4"/>
<circle class="m" cx="625.5" cy="472" r="6.8"/>
<path class="o" d="M625.5 452.5L625.5 491.3"/>
<path class="o" d="M605 472L646.3 472"/>
<circle class="m" cx="608.3" cy="472" r="2.3"/>
<path class="m" d="M604.3 472L612.3 472"/>
<path class="m" d="M608.3 467.5L608.3 476.5"/>
<circle class="m" cx="642.5" cy="472" r="2.3"/>
<path class="m" d="M638.5 472L646.5 472"/>
<path class="m" d="M642.5 467.5L642.5 476.5"/>
<circle class="m" cx="609.3" cy="500" r="2.3"/>
<path class="m" d="M605.3 500L613.3 500"/>
<path class="m" d="M609.3 495.5L609.3 504.5"/>
<circle class="m" cx="641.5" cy="500" r="2.3"/>
<path class="m" d="M637.5 500L645.5 500"/>
<path class="m" d="M641.5 495.5L641.5 504.5"/>
<path class="o" d="M550.5 488L584.5 488"/>
<path class="k" d="M553.8 456L553.8 487.8"/><path class="a" d="M553.8 456L555.6 462L552 462Z"/><path class="a" d="M553.8 487.8L552 481.8L555.6 481.8Z"/>
<text x="552" y="472" font-size="11.5" class="n" transform="rotate(-90 552 472)" letter-spacing=".7">150</text>
<path class="o" d="M642 595.3L700 595.3"/>
<path class="k" d="M696.8 456L696.8 595.1"/><path class="a" d="M696.8 456L698.6 462L695 462Z"/><path class="a" d="M696.8 595.1L695 589.1L698.6 589.1Z"/>
<text x="695.3" y="525.8" font-size="11.5" class="n" transform="rotate(-90 695.3 525.8)" letter-spacing=".7">635</text>
<path class="t" d="M588.5 620.8L588.5 641.3"/>
<path class="t" d="M665.5 620.8L665.5 641.3"/>
<path class="m" d="M588.7 639.3L665.3 639.3"/><path class="a" d="M588.7 639.3L594.2 637.6L594.2 641Z"/><path class="a" d="M665.3 639.3L659.8 641L659.8 637.6Z"/>
<text x="625.5" y="637.2" font-size="11.5" class="n">365</text>
</g>
</svg>
</body>
</html>
